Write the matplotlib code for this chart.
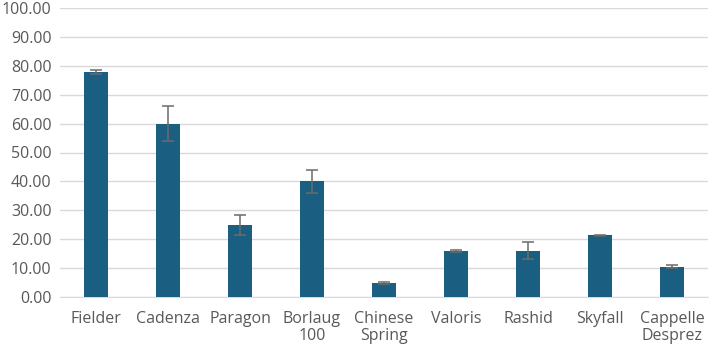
import matplotlib
matplotlib.use("Agg")
import matplotlib.pyplot as plt
import numpy as np

cultivars = ["Fielder", "Cadenza", "Paragon", "Borlaug\n100", "Chinese\nSpring",
             "Valoris", "Rashid", "Skyfall", "Cappelle\nDesprez"]
values = [77.8, 60.0, 25.0, 40.0, 4.9, 16.0, 16.0, 21.3, 10.5]
errors = [0.7, 6.0, 3.5, 4.0, 0.3, 0.4, 3.0, 0.2, 0.5]
yticks = np.arange(0, 101, 10)

plt.rcParams["font.family"] = ["Open Sans", "DejaVu Sans"]
fig = plt.figure(figsize=(7.09, 3.44), dpi=100)
ax = fig.add_axes([60 / 709, 1 - 297 / 344, 648 / 709, 289 / 344])

x = np.arange(len(cultivars))
ax.bar(x, values, width=0.32, color="#1a5e82", zorder=3)
ax.errorbar(x, values, yerr=errors, fmt="none", ecolor="#6b6b6b", elinewidth=1.1,
            capsize=4, capthick=1.1, zorder=4)

ax.set_xlim(-0.5, len(cultivars) - 0.5)
ax.set_ylim(0, 100)
ax.set_yticks(yticks)
ax.set_yticklabels([f"{v:.2f}" for v in yticks])
ax.set_xticks(x)
ax.set_xticklabels(cultivars, linespacing=1.1)
ax.grid(axis="y", color="#d9d9d9", lw=1, zorder=0)
for s in ("top", "right", "left"):
    ax.spines[s].set_visible(False)
ax.spines["bottom"].set_color("#d9d9d9")
ax.tick_params(axis="both", length=0, labelsize=11.5, colors="#595959", pad=10)
ax.tick_params(axis="y", pad=6)

fig.savefig("out.png", dpi=100)
